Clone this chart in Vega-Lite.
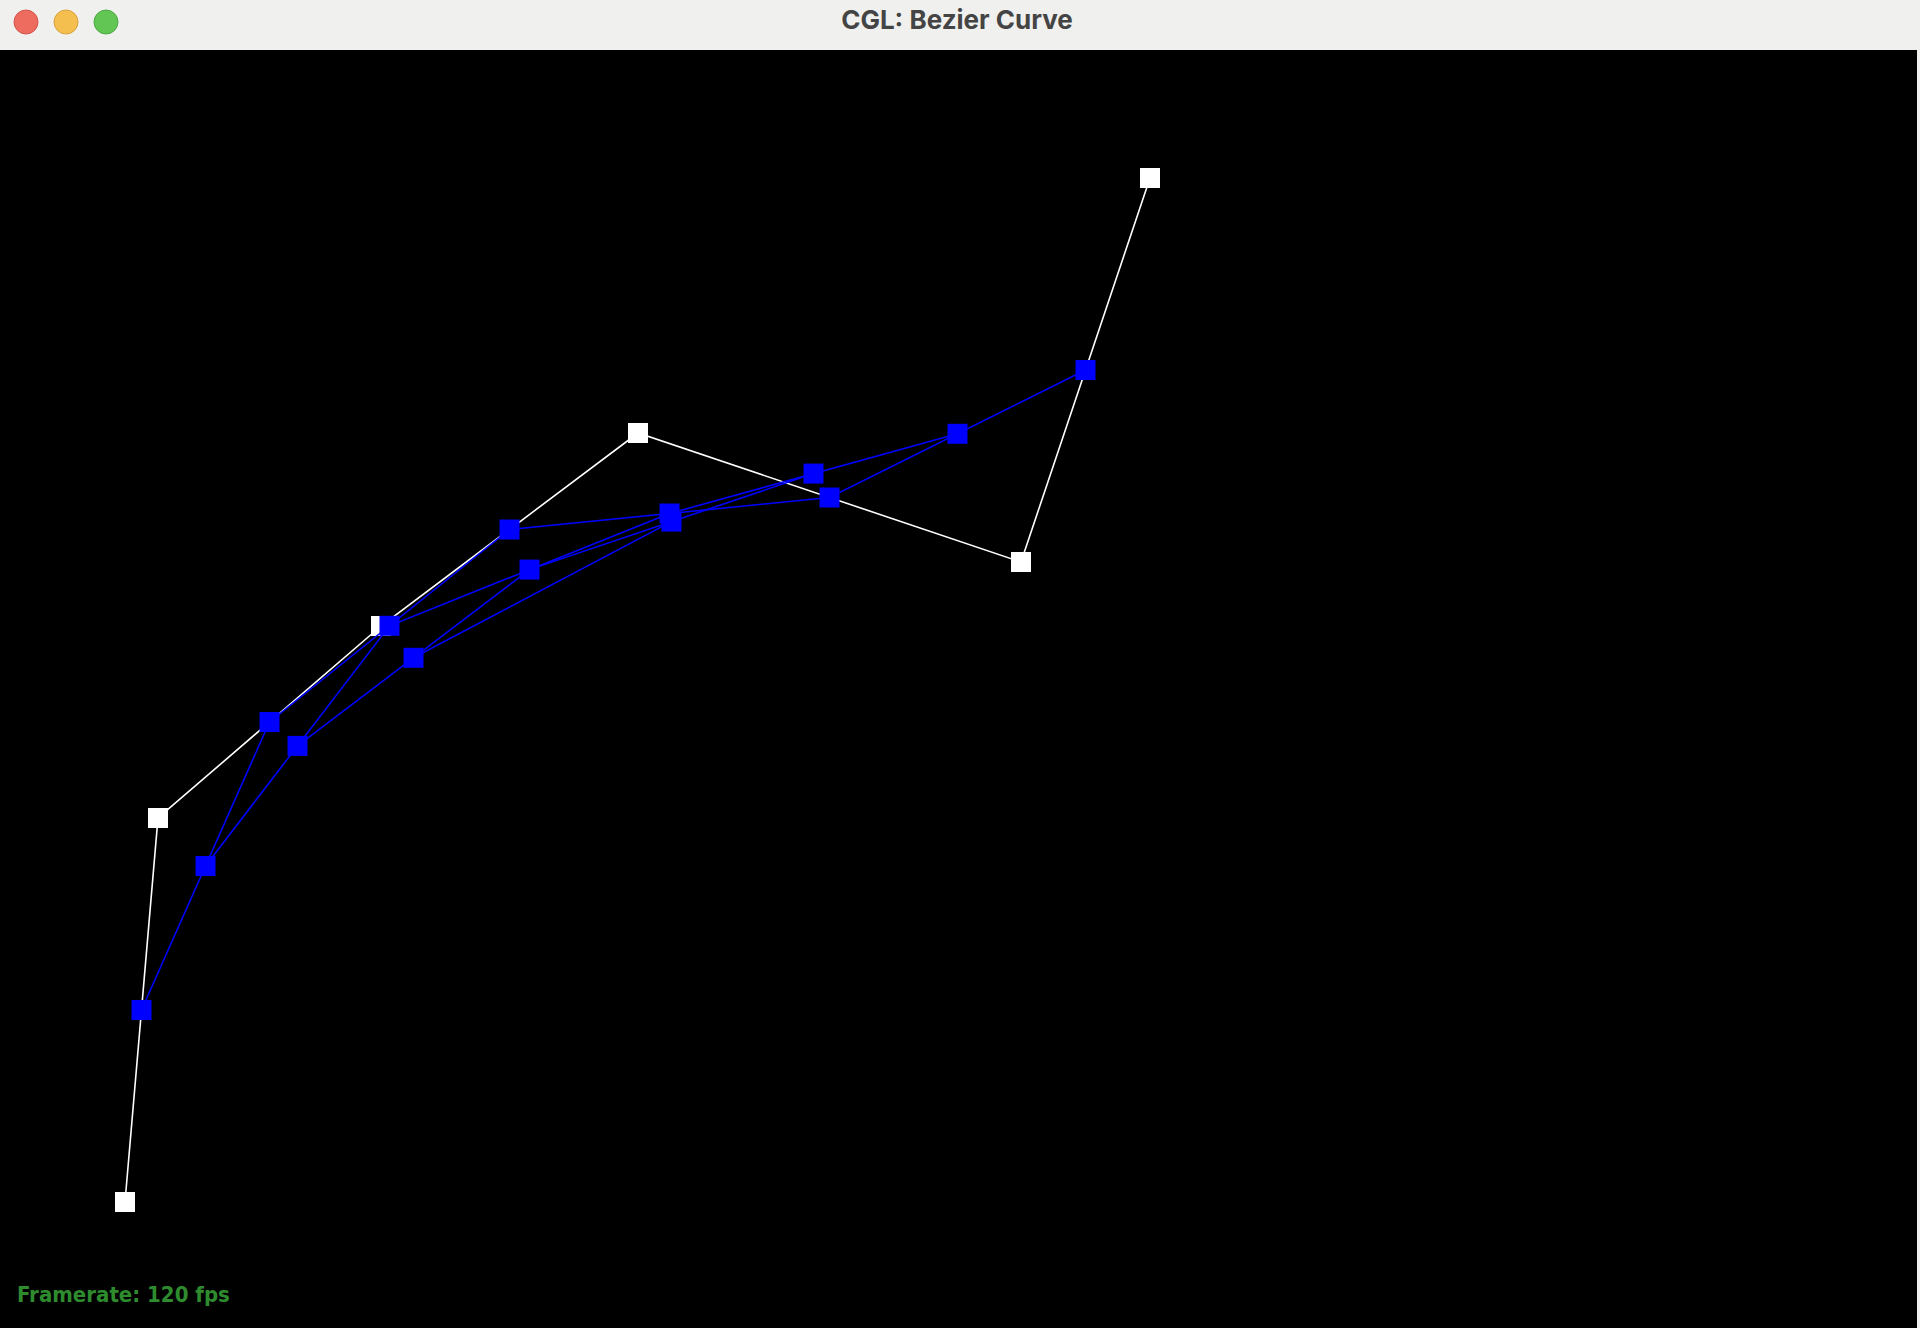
{
  "$schema": "https://vega.github.io/schema/vega-lite/v6.json",
  "autosize": "none",
  "width": 1917,
  "height": 1278,
  "padding": {"top": 50, "left": 0, "right": 3, "bottom": 0},
  "background": "#f0f0ee",
  "config": {"view": {"fill": "#000000", "stroke": null}},
  "datasets": {
    "casteljau": [
      {"level": 0, "i": 0, "x": 125, "y": 1152},
      {"level": 0, "i": 1, "x": 158, "y": 768},
      {"level": 0, "i": 2, "x": 381, "y": 576},
      {"level": 0, "i": 3, "x": 638, "y": 383},
      {"level": 0, "i": 4, "x": 1021, "y": 512},
      {"level": 0, "i": 5, "x": 1150, "y": 128},
      {"level": 1, "i": 0, "x": 141.5, "y": 960},
      {"level": 1, "i": 1, "x": 269.5, "y": 672},
      {"level": 1, "i": 2, "x": 509.5, "y": 479.5},
      {"level": 1, "i": 3, "x": 829.5, "y": 447.5},
      {"level": 1, "i": 4, "x": 1085.5, "y": 320},
      {"level": 2, "i": 0, "x": 205.5, "y": 816},
      {"level": 2, "i": 1, "x": 389.5, "y": 575.8},
      {"level": 2, "i": 2, "x": 669.5, "y": 463.5},
      {"level": 2, "i": 3, "x": 957.5, "y": 383.8},
      {"level": 3, "i": 0, "x": 297.5, "y": 695.9},
      {"level": 3, "i": 1, "x": 529.5, "y": 519.6},
      {"level": 3, "i": 2, "x": 813.5, "y": 423.6},
      {"level": 4, "i": 0, "x": 413.5, "y": 607.8},
      {"level": 4, "i": 1, "x": 671.5, "y": 471.6}
    ],
    "buttons": [
      {"name": "close", "x": 26, "y": -28},
      {"name": "minimize", "x": 66, "y": -28},
      {"name": "zoom", "x": 106, "y": -28}
    ],
    "labels": [
      {"role": "window", "text": "CGL: Bezier Curve", "x": 957, "y": -21},
      {"role": "status", "text": "Framerate: 120 fps", "x": 17, "y": 1252}
    ]
  },
  "encoding": {
    "x": {"field": "x", "type": "quantitative", "scale": {"domain": [0, 1917], "nice": false, "zero": false}, "axis": null},
    "y": {"field": "y", "type": "quantitative", "scale": {"domain": [0, 1278], "nice": false, "zero": false, "reverse": true}, "axis": null}
  },
  "layer": [
    {
      "data": {"name": "casteljau"},
      "transform": [{"filter": "datum.level == 0"}],
      "mark": {"type": "line", "color": "#ffffff", "strokeWidth": 1.6},
      "encoding": {"order": {"field": "i"}}
    },
    {
      "data": {"name": "casteljau"},
      "transform": [{"filter": "datum.level == 0"}],
      "mark": {"type": "point", "shape": "square", "filled": true, "size": 400, "color": "#ffffff", "opacity": 1}
    },
    {
      "data": {"name": "casteljau"},
      "transform": [{"filter": "datum.level > 0"}],
      "mark": {"type": "line", "color": "#0000ff", "strokeWidth": 1.6},
      "encoding": {"detail": {"field": "level"}, "order": {"field": "i"}}
    },
    {
      "data": {"name": "casteljau"},
      "transform": [{"filter": "datum.level > 0"}],
      "mark": {"type": "point", "shape": "square", "filled": true, "size": 400, "color": "#0000ff", "opacity": 1}
    },
    {
      "data": {"name": "buttons"},
      "mark": {"type": "point", "shape": "circle", "filled": true, "size": 576, "opacity": 1, "strokeWidth": 1},
      "encoding": {
        "fill": {"field": "name", "type": "nominal", "scale": {"domain": ["close", "minimize", "zoom"], "range": ["#ee6b60", "#f5bf4f", "#62c655"]}, "legend": null},
        "stroke": {"field": "name", "type": "nominal", "scale": {"domain": ["close", "minimize", "zoom"], "range": ["#d4544a", "#d9a03a", "#4ea843"]}, "legend": null}
      }
    },
    {
      "data": {"name": "labels"},
      "transform": [{"filter": "datum.role == 'window'"}],
      "mark": {"type": "text", "align": "center", "baseline": "alphabetic", "font": "Inter", "fontSize": 26, "fontWeight": "bold", "color": "#444444"},
      "encoding": {"text": {"field": "text"}}
    },
    {
      "data": {"name": "labels"},
      "transform": [{"filter": "datum.role == 'status'"}],
      "mark": {"type": "text", "align": "left", "baseline": "alphabetic", "font": "Liberation Sans Narrow, DejaVu Sans Condensed, Open Sans, sans-serif", "fontSize": 22, "fontWeight": "bold", "color": "#2e8b2e"},
      "encoding": {"text": {"field": "text"}}
    }
  ]
}
